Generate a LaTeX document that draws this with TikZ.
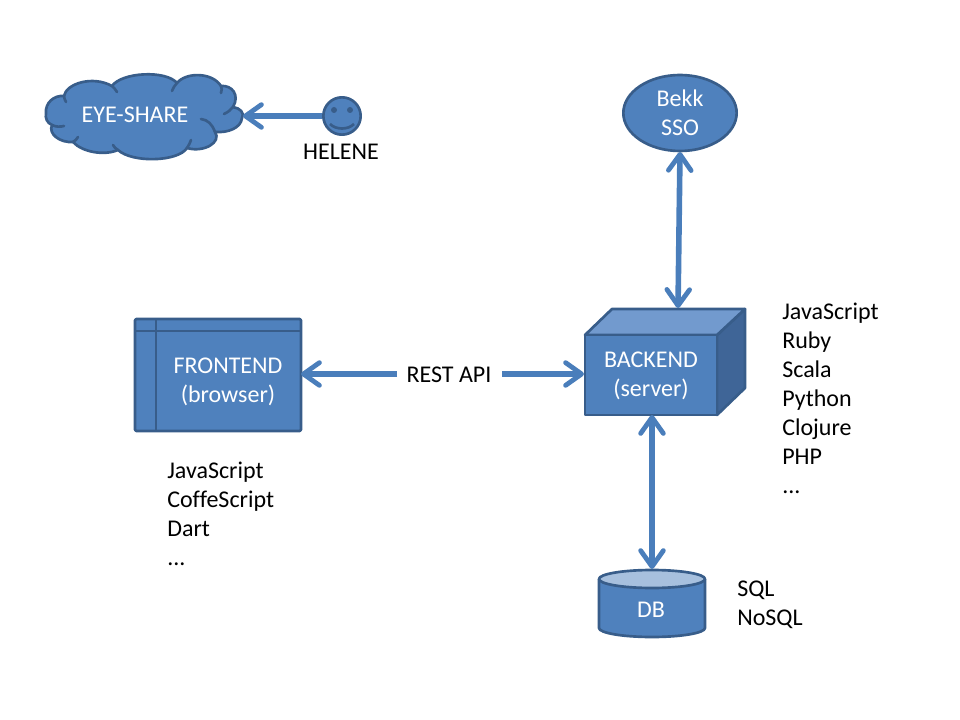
\documentclass[tikz,border=0pt]{standalone}
\usepackage{fontspec}
\setmainfont[Ligatures=NoCommon]{Carlito}
\usetikzlibrary{arrows.meta,shapes.geometric}
\definecolor{shapefill}{RGB}{79,129,189}
\definecolor{shapeline}{RGB}{56,93,138}
\definecolor{arrowblue}{RGB}{74,126,187}
\definecolor{lighttop}{RGB}{114,154,206}
\definecolor{darkside}{RGB}{63,101,151}
\definecolor{dbtop}{RGB}{167,192,222}
\tikzset{
  x=0.75pt,y=-0.75pt,
  shapestyle/.style={draw=shapeline,line width=2pt,fill=shapefill,line join=round},
  whitetext/.style={inner sep=0pt,font=\fontsize{18}{21.75}\selectfont,align=center,text=white},
  notetext/.style={inner sep=0pt,font=\fontsize{18}{21.75}\selectfont,align=left,text=black,anchor=north west},
  link/.style={draw=arrowblue,line width=4.2pt},
  onehead/.style={link,-{Straight Barb[length=12pt,width=17pt,line width=3.6pt,round]}},
  twohead/.style={link,{Straight Barb[length=12pt,width=17pt,line width=3.6pt,round]}-{Straight Barb[length=12pt,width=17pt,line width=3.6pt,round]}}
}
\begin{document}
\begin{tikzpicture}
\useasboundingbox (0,0) rectangle (960,720);
% cloud
\draw[shapestyle] (46,113)
 .. controls (45,103) and (54,95) .. (64,96)
 .. controls (66,84) and (92,75) .. (112,86)
 .. controls (122,72) and (166,70) .. (177,83)
 .. controls (186,72) and (212,72) .. (221,86)
 .. controls (232,85) and (240,95) .. (233,107)
 .. controls (240,108) and (245,113) .. (242,118)
 .. controls (241,128) and (228,133) .. (215,132)
 .. controls (222,142) and (204,153) .. (187,148)
 .. controls (178,162) and (132,163) .. (118,150)
 .. controls (104,156) and (82,152) .. (73,142)
 .. controls (60,143) and (48,134) .. (52,125)
 .. controls (47,123) and (45,118) .. (46,113) -- cycle;
\draw[draw=shapeline,line width=2pt,line cap=round]
  (52,125) .. controls (56,127) and (60,127) .. (64,126)
  (64,96) .. controls (64,98) and (65,100) .. (66,102)
  (112,86) .. controls (114,88) and (116,90) .. (117,92)
  (177,83) .. controls (175,85) and (173,88) .. (172,91)
  (221,86) .. controls (222,88) and (222,90) .. (221,93)
  (233,107) .. controls (231,110) and (228,112) .. (224,114)
  (215,132) .. controls (212,124) and (208,120) .. (201,119)
  (187,148) .. controls (189,145) and (190,143) .. (191,140)
  (118,150) .. controls (116,149) and (114,147) .. (113,145)
  (73,142) .. controls (75,141) and (77,139) .. (78,137);
\node[whitetext] (eyeshare) at (135,115) {EYE-SHARE};
\coordinate (cloudtip) at (243,116);
% smiley
\node[circle,shapestyle,minimum size=28pt,inner sep=0pt] (helene) at (342,116) {};
\fill[shapeline] (334,110) circle[radius=3] (350,110) circle[radius=3];
\draw[shapeline,line width=2pt] (330,124) .. controls (336,130) and (348,130) .. (354,124);
\node[inner sep=0pt,font=\fontsize{18}{21.75}\selectfont] (helenetext) at (341,152) {HELENE};
% Bekk
\node[ellipse,shapestyle,minimum width=85pt,minimum height=57pt,whitetext] (bekk) at (680,113) {Bekk\\SSO};
% frontend
\node[rectangle,rounded corners=1pt,shapestyle,minimum width=124.5pt,minimum height=84pt,inner sep=0pt] (frontend) at (218,375) {};
\draw[shapeline,line width=2pt] (156,319) -- (156,431) (135,331) -- (301,331);
\node[whitetext] (frontendtext) at (228,382) {FRONTEND\\(browser)};
% backend
\draw[shapestyle,fill=darkside] (717,335) -- (745,309) -- (745,388) -- (717,415) -- cycle;
\draw[shapestyle,fill=lighttop] (585,335) -- (612,309) -- (745,309) -- (717,335) -- cycle;
\node[rectangle,shapestyle,minimum width=99pt,minimum height=60pt,inner sep=0pt] (backend) at (651,375) {};
\coordinate (backendtop) at (678,308);
\node[whitetext] (backendtext) at (651,376) {BACKEND\\(server)};
% DB
\draw[shapestyle] (599,579) -- (599,628) arc[start angle=180,end angle=0,x radius=53,y radius=9] -- (705,579);
\draw[shapestyle,fill=dbtop] (652,579) ellipse[x radius=53,y radius=9];
\coordinate (dbtopc) at (652,569);
\node[whitetext] (db) at (651,610) {DB};
% REST API
\node[inner sep=0pt,font=\fontsize{18}{21.75}\selectfont] (rest) at (449,375) {REST API};
\coordinate (restleft) at (397,374);
\coordinate (restright) at (502,374);
\coordinate (backendleft) at (584,374);
\coordinate (frontendright) at (301,374);
\coordinate (backendbottom) at (652,415);
\coordinate (bekkbottom) at (680,152);
% connectors
\draw[onehead] (helene) -- (cloudtip);
\draw[twohead] (bekkbottom) -- (backendtop);
\draw[onehead] (restleft) -- (frontendright);
\draw[onehead] (restright) -- (backendleft);
\draw[twohead] (backendbottom) -- (dbtopc);
% notes
\node[notetext] (n1) at (167,462) {JavaScript\\CoffeScript\\Dart\\...};
\node[notetext] (n2) at (782,303) {JavaScript\\Ruby\\Scala\\Python\\Clojure\\PHP\\...};
\node[notetext] (n3) at (737,581) {SQL\\NoSQL};
\end{tikzpicture}
\end{document}
